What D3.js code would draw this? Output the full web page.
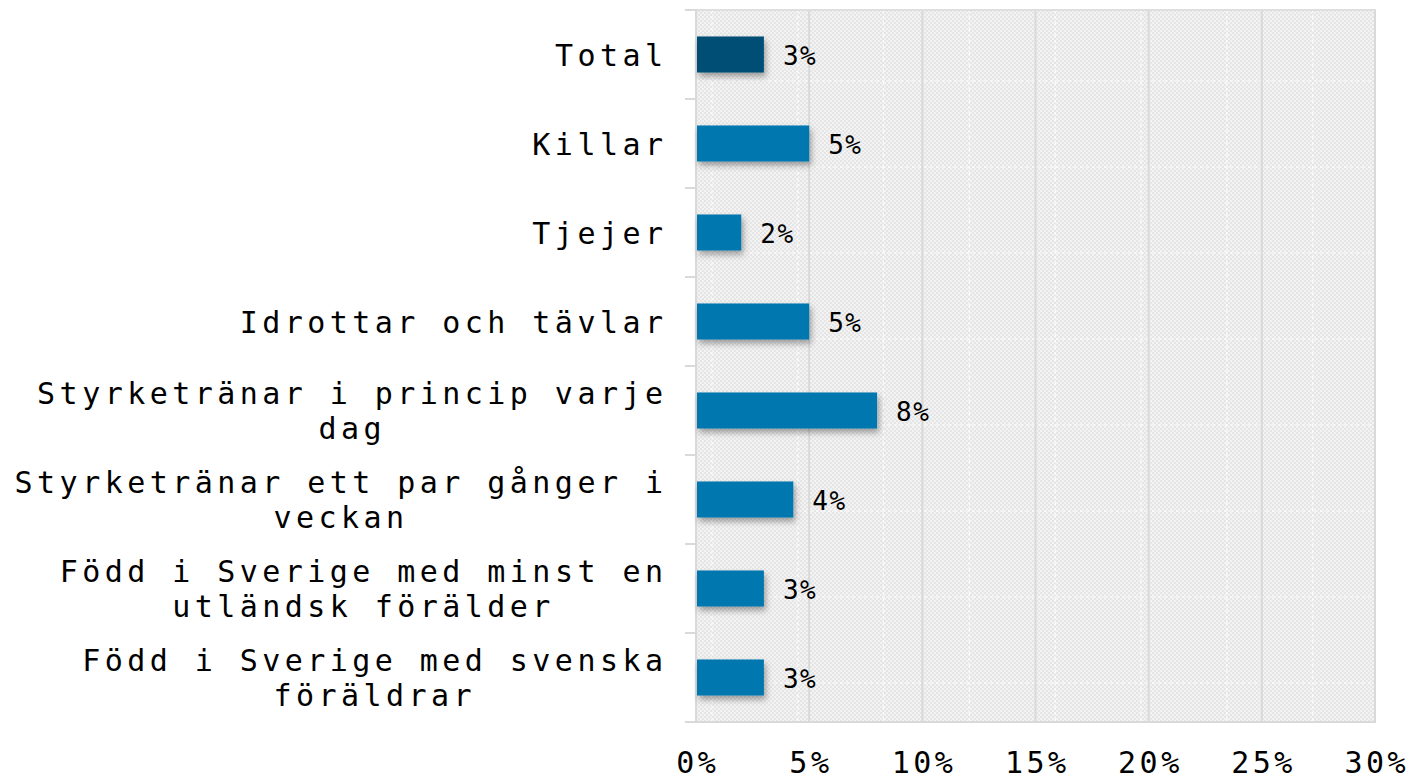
<!DOCTYPE html>
<html>
<head>
<meta charset="utf-8">
<script src="https://cdn.jsdelivr.net/npm/d3@7"></script>
<style>
  html, body { margin: 0; padding: 0; background: #fff; }
  svg { display: block; }
  text { font-family: "DejaVu Sans Mono", "Liberation Mono", monospace; fill: #000; }
</style>
</head>
<body>
<svg id="chart" width="1412" height="779"></svg>
<script>
// ---- data ----
const categories = [
  ["Total"],
  ["Killar"],
  ["Tjejer"],
  ["Idrottar och tävlar"],
  ["Styrketränar i princip varje", "dag"],
  ["Styrketränar ett par gånger i", "veckan"],
  ["Född i Sverige med minst en", "utländsk förälder"],
  ["Född i Sverige med svenska", "föräldrar"]
];
const values = [3, 5, 2, 5, 8, 4.3, 3, 3];
const barColors = ["#004e74", "#0077ae", "#0077ae", "#0077ae", "#0077ae", "#0077ae", "#0077ae", "#0077ae"];
const xTicks = [0, 5, 10, 15, 20, 25, 30];
const xTickLabels = ["0%", "5%", "10%", "15%", "20%", "25%", "30%"];

// ---- layout ----
const W = 1412, H = 779;
const plot = { left: 696, right: 1375, top: 10, bottom: 722 };
const svg = d3.select("#chart");
const defs = svg.append("defs");

const pat = defs.append("pattern").attr("id", "checker")
  .attr("patternUnits", "userSpaceOnUse").attr("width", 4).attr("height", 4);
pat.append("rect").attr("width", 4).attr("height", 4).attr("fill", "#f3f3f3");
pat.append("rect").attr("width", 2).attr("height", 2).attr("fill", "#e5e5e5");
pat.append("rect").attr("x", 2).attr("y", 2).attr("width", 2).attr("height", 2).attr("fill", "#e5e5e5");

const f = defs.append("filter").attr("id", "shadow")
  .attr("x", "-20%").attr("y", "-40%").attr("width", "150%").attr("height", "200%");
f.append("feDropShadow").attr("dx", 2).attr("dy", 4).attr("stdDeviation", 3)
  .attr("flood-color", "#000").attr("flood-opacity", 0.35);

const x = d3.scaleLinear().domain([0, 30]).range([plot.left, plot.right]);
const keys = categories.map((c, i) => i);
const y = d3.scaleBand().domain(keys).range([plot.top, plot.bottom]).padding(0);
const barH = y.bandwidth() * 0.405;

// background
svg.append("rect").attr("x", plot.left).attr("y", plot.top)
  .attr("width", plot.right - plot.left).attr("height", plot.bottom - plot.top)
  .attr("fill", "url(#checker)");

// decorative white dashed grid
const deco = svg.append("g").attr("stroke", "#ffffff").attr("stroke-width", 1.2)
  .attr("stroke-dasharray", "3,3").attr("opacity", 0.9);
d3.range(712, plot.right, 85.8).forEach(px => {
  deco.append("line").attr("x1", px).attr("x2", px).attr("y1", plot.top).attr("y2", plot.bottom);
});
d3.range(81, plot.bottom, 86).forEach(py => {
  deco.append("line").attr("x1", plot.left).attr("x2", plot.right).attr("y1", py).attr("y2", py);
});

// major gridlines
svg.append("g").selectAll("line").data(xTicks.slice(1)).join("line")
  .attr("x1", d => x(d)).attr("x2", d => x(d))
  .attr("y1", plot.top).attr("y2", plot.bottom)
  .attr("stroke", "#d9d9d9").attr("stroke-width", 2);

// top border
svg.append("line").attr("x1", 685).attr("x2", plot.right + 1)
  .attr("y1", plot.top).attr("y2", plot.top)
  .attr("stroke", "#dedede").attr("stroke-width", 2);

// category axis
const yAxisG = svg.append("g");
yAxisG.append("line").attr("x1", plot.left).attr("x2", plot.left)
  .attr("y1", plot.top).attr("y2", plot.bottom)
  .attr("stroke", "#d9d9d9").attr("stroke-width", 2);
const bounds = keys.map(k => y(k)).concat([y(keys[keys.length - 1]) + y.step()]);
yAxisG.selectAll("line.tick").data(bounds).join("line").attr("class", "tick")
  .attr("x1", 685).attr("x2", plot.left)
  .attr("y1", d => d).attr("y2", d => d)
  .attr("stroke", "#d9d9d9").attr("stroke-width", 2);
// bottom axis line
svg.append("line").attr("x1", 685).attr("x2", plot.right + 1)
  .attr("y1", plot.bottom).attr("y2", plot.bottom)
  .attr("stroke", "#d9d9d9").attr("stroke-width", 2);

// bars
svg.append("g").selectAll("rect").data(keys).join("rect")
  .attr("x", x(0) + 1)
  .attr("y", k => y(k) + y.bandwidth() / 2 - barH / 2)
  .attr("width", k => x(values[k]) - x(0) - 1)
  .attr("height", barH)
  .attr("fill", k => barColors[k])
  .attr("filter", "url(#shadow)");

// value labels
svg.append("g").selectAll("text").data(keys).join("text")
  .attr("x", k => x(values[k]) + 19)
  .attr("y", k => y(k) + y.bandwidth() / 2 + 10)
  .attr("font-size", 26)
  .attr("letter-spacing", 1.5)
  .attr("fill", "#111")
  .text(k => Math.round(values[k]) + "%");

// category labels
const LS = 4.45, FS = 30, lineH = 35;
const labelRight = 663;
const measure = svg.append("text").attr("font-size", FS).attr("letter-spacing", LS).attr("opacity", 0);
function textW(s) { measure.text(s); return measure.node().getComputedTextLength() - LS; }
const catG = svg.append("g");
keys.forEach(k => {
  const lines = categories[k];
  const cy = y(k) + y.bandwidth() / 2;
  const w0 = textW(lines[0]);
  const centerX = labelRight - w0 / 2;
  const n = lines.length;
  lines.forEach((ln, i) => {
    const baseline = cy + (i - (n - 1) / 2) * lineH + 11;
    const w = textW(ln);
    catG.append("text")
      .attr("x", centerX - w / 2)
      .attr("y", baseline)
      .attr("font-size", FS)
      .attr("letter-spacing", LS)
      .text(ln);
  });
});
measure.remove();

// x axis tick labels
const xg = svg.append("g");
xTicks.forEach((t, i) => {
  const s = xTickLabels[i];
  const fsz = 30, ls = 3.5;
  const tt = xg.append("text").attr("font-size", fsz).attr("letter-spacing", ls).text(s);
  const w = tt.node().getComputedTextLength() - ls;
  tt.attr("x", x(t) - w / 2).attr("y", 773);
});
</script>
</body>
</html>
